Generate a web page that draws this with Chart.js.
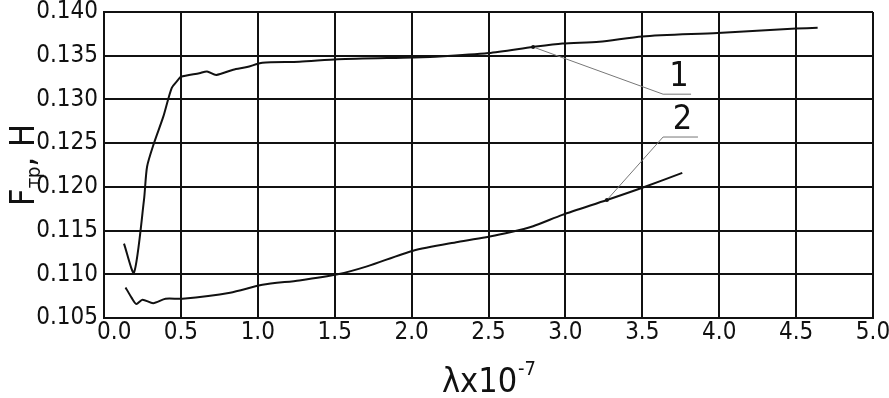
<!DOCTYPE html>
<html>
<head>
    <title>Fтр vs λ</title>
    <script src="https://cdn.jsdelivr.net/npm/chart.js"></script>
    <style>
        html, body { margin: 0; padding: 0; background: #fff; }
        #wrap { width: 889px; height: 398px; }
    </style>
</head>
<body>
    <div id="wrap"><canvas id="frictionChart" width="889" height="398"></canvas></div>

    <script>
        // curve 1
        const lambda1 = [0.13, 0.195, 0.26, 0.28, 0.325, 0.385, 0.44, 0.48, 0.5, 0.62, 0.67, 0.73, 0.84, 0.93, 1.03, 1.27, 1.52, 2.01, 2.18, 2.5, 2.79, 2.98, 3.22, 3.5, 3.99, 4.5, 4.64];
        const force1 = [0.1135, 0.1102, 0.1185, 0.1223, 0.125, 0.128, 0.1313, 0.1322, 0.1326, 0.1330, 0.1332, 0.1328, 0.1334, 0.1337, 0.1342, 0.1343, 0.1346, 0.1348, 0.1349, 0.1353, 0.1360, 0.1364, 0.1366, 0.1372, 0.1376, 0.1381, 0.1382];
        // curve 2
        const lambda2 = [0.14, 0.18, 0.21, 0.25, 0.32, 0.4, 0.51, 0.82, 1.03, 1.27, 1.52, 1.71, 2.01, 2.3, 2.5, 2.64, 2.79, 2.98, 3.27, 3.5, 3.76];
        const force2 = [0.1085, 0.1073, 0.1066, 0.1071, 0.1067, 0.1072, 0.1072, 0.1079, 0.1088, 0.1093, 0.1100, 0.1109, 0.1127, 0.1137, 0.1143, 0.1148, 0.1155, 0.1168, 0.1185, 0.1199, 0.1216];

        const xTicks = [0.0, 0.5, 1.0, 1.5, 2.0, 2.5, 3.0, 3.5, 4.0, 4.5, 5.0];
        const yTicks = [0.105, 0.110, 0.115, 0.120, 0.125, 0.130, 0.135, 0.140];

        // callouts: label, point on curve, underline start/end (data units)
        const calloutLabels = ['1', '2'];
        const calloutPoints = [[2.79, 0.1360], [3.27, 0.1185]];
        const calloutLines = [[3.635, 3.817, 0.1306], [3.635, 3.862, 0.1257]];

        const FONT = '"DejaVu Sans Condensed", "Liberation Sans Narrow", sans-serif';

        function toPoints(xs, ys) {
            return xs.map((x, i) => ({ x: x, y: ys[i] }));
        }

        const annotate = {
            id: 'annotate',
            afterDatasetsDraw(chart) {
                const ctx = chart.ctx;
                const xs = chart.scales.x, ys = chart.scales.y;
                ctx.save();
                calloutLabels.forEach((lab, i) => {
                    const p = calloutPoints[i], l = calloutLines[i];
                    const px = xs.getPixelForValue(p[0]), py = ys.getPixelForValue(p[1]);
                    const x1 = xs.getPixelForValue(l[0]), x2 = xs.getPixelForValue(l[1]);
                    const ly = ys.getPixelForValue(l[2]);
                    ctx.strokeStyle = '#777';
                    ctx.lineWidth = 1;
                    ctx.beginPath();
                    ctx.moveTo(px, py);
                    ctx.lineTo(x1, ly);
                    ctx.lineTo(x2, ly);
                    ctx.stroke();
                    ctx.fillStyle = '#111';
                    ctx.beginPath();
                    ctx.arc(px, py, 2, 0, Math.PI * 2);
                    ctx.fill();
                    ctx.font = '34px ' + FONT;
                    ctx.textAlign = 'center';
                    ctx.textBaseline = 'bottom';
                    ctx.fillText(lab, (x1 + x2) / 2 + 2, ly);
                });
                ctx.restore();
            },
            afterDraw(chart) {
                const ctx = chart.ctx;
                const area = chart.chartArea;
                ctx.save();
                ctx.fillStyle = '#111';
                // x title
                ctx.font = '34px ' + FONT;
                ctx.textBaseline = 'alphabetic';
                ctx.textAlign = 'left';
                const main = 'λx10';
                const sup = '-7';
                const w1 = ctx.measureText(main).width;
                ctx.font = '20px ' + FONT;
                const w2 = ctx.measureText(sup).width;
                let sx = (area.left + area.right) / 2 - (w1 + w2) / 2;
                ctx.font = '34px ' + FONT;
                ctx.fillText(main, sx, 392);
                ctx.font = '20px ' + FONT;
                ctx.fillText(sup, sx + w1 + 1, 375);
                // y title, rotated, with subscript
                ctx.translate(34, (area.top + area.bottom) / 2);
                ctx.rotate(-Math.PI / 2);
                ctx.font = '34px ' + FONT;
                const a = 'F', b = 'тр', c = ', Н';
                const wa = ctx.measureText(a).width, wc = ctx.measureText(c).width;
                ctx.font = '20px ' + FONT;
                const wb = ctx.measureText(b).width;
                let tx = -(wa + wb + wc) / 2;
                ctx.font = '34px ' + FONT;
                ctx.fillText(a, tx, 0);
                ctx.font = '20px ' + FONT;
                ctx.fillText(b, tx + wa, 6);
                ctx.font = '34px ' + FONT;
                ctx.fillText(c, tx + wa + wb, 0);
                ctx.restore();
            }
        };

        const ctx = document.getElementById('frictionChart').getContext('2d');
        const myChart = new Chart(ctx, {
            type: 'line',
            data: {
                datasets: [{
                    label: '1',
                    data: toPoints(lambda1, force1),
                    borderColor: '#111',
                    borderWidth: 2,
                    pointRadius: 0,
                    tension: 0.25,
                    fill: false
                }, {
                    label: '2',
                    data: toPoints(lambda2, force2),
                    borderColor: '#111',
                    borderWidth: 2,
                    pointRadius: 0,
                    tension: 0.25,
                    fill: false
                }]
            },
            options: {
                responsive: false,
                animation: false,
                layout: { padding: { top: 12, right: 16, left: 0, bottom: 0 } },
                plugins: { legend: { display: false }, tooltip: { enabled: false } },
                scales: {
                    x: {
                        type: 'linear',
                        min: 0, max: 5,
                        afterBuildTicks: s => { s.ticks = xTicks.map(v => ({ value: v })); },
                        afterFit: s => { s.height = 80; s.paddingLeft = 0; s.paddingRight = 0; },
                        grid: { color: '#111', lineWidth: 2, drawTicks: false },
                        border: { color: '#111', width: 2 },
                        ticks: {
                            color: '#111',
                            padding: 5,
                            maxRotation: 0,
                            font: { family: FONT, size: 24, lineHeight: 0.8 },
                            callback: v => (v === 0 ? '   ' : '') + v.toFixed(1)
                        }
                    },
                    y: {
                        min: 0.105, max: 0.140,
                        afterBuildTicks: s => { s.ticks = yTicks.map(v => ({ value: v })); },
                        afterFit: s => { s.width = 104; s.paddingTop = 0; s.paddingBottom = 0; },
                        grid: { color: '#111', lineWidth: 2, drawTicks: false },
                        border: { color: '#111', width: 2 },
                        ticks: {
                            color: '#111',
                            padding: 6,
                            font: { family: FONT, size: 24, lineHeight: 0.8 },
                            callback: v => v.toFixed(3)
                        }
                    }
                }
            },
            plugins: [annotate]
        });
    </script>
</body>
</html>
